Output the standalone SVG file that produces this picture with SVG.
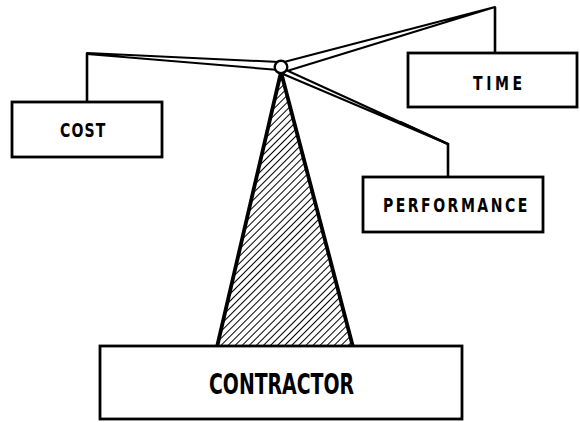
<svg xmlns="http://www.w3.org/2000/svg" width="580" height="422" viewBox="0 0 580 422">
<style>
.box{fill:#fff;stroke:#000;stroke-width:2.8}
.lbl{font-family:"DejaVu Sans Condensed","DejaVu Sans",sans-serif;font-weight:bold;font-size:20px;fill:#000}
.big{font-family:"DejaVu Sans Condensed","DejaVu Sans",sans-serif;font-weight:bold;font-size:29px;fill:#000}
.wire{fill:none;stroke:#000;stroke-width:2.6;stroke-linejoin:miter}
.beam{fill:#fff;stroke:#000;stroke-width:2;stroke-linejoin:round}
</style>
<defs>
<pattern id="hatch" width="5" height="5" patternUnits="userSpaceOnUse" patternTransform="rotate(45)">
<rect width="5" height="5" fill="#fff"/>
<line x1="0" y1="0" x2="0" y2="5" stroke="#000" stroke-width="2"/>
</pattern>
</defs>
<g id="connectors">
<polyline class="wire" points="87,102 87,53"/>
<polyline class="wire" points="495,53 495,7"/>
<polyline class="wire" points="448,177 448,144 400,122"/>
<polygon class="beam" points="87,53 279,62 279,70 87,54"/>
<polygon class="beam" points="495,7 284,62 287,71"/>
<polygon class="beam" points="448,144 286,70 283,74"/>
</g>
<g id="fulcrum">
<polygon points="281,72 217,347 353,347" fill="url(#hatch)" stroke="#000" stroke-width="3.8" stroke-linejoin="round"/>
<circle cx="281" cy="67" r="6.3" fill="#fff" stroke="#000" stroke-width="2.4"/>
</g>
<g id="cost">
<rect class="box" x="12" y="102" width="150" height="55"/>
<text class="lbl" transform="translate(60,137) scale(0.78,1)" x="0" y="0" textLength="58" lengthAdjust="spacing">COST</text>
</g>
<g id="time">
<rect class="box" x="408" y="53" width="169" height="54"/>
<text class="lbl" transform="translate(473,90) scale(0.78,1)" x="0" y="0" textLength="63" lengthAdjust="spacing">TIME</text>
</g>
<g id="performance">
<rect class="box" x="363" y="177" width="180" height="55"/>
<text class="lbl" transform="translate(383,212) scale(0.78,1)" x="0" y="0" textLength="185" lengthAdjust="spacing">PERFORMANCE</text>
</g>
<g id="contractor">
<rect class="box" x="100" y="346" width="362" height="73"/>
<text class="big" x="209" y="394" textLength="145" lengthAdjust="spacingAndGlyphs">CONTRACTOR</text>
</g>
</svg>
